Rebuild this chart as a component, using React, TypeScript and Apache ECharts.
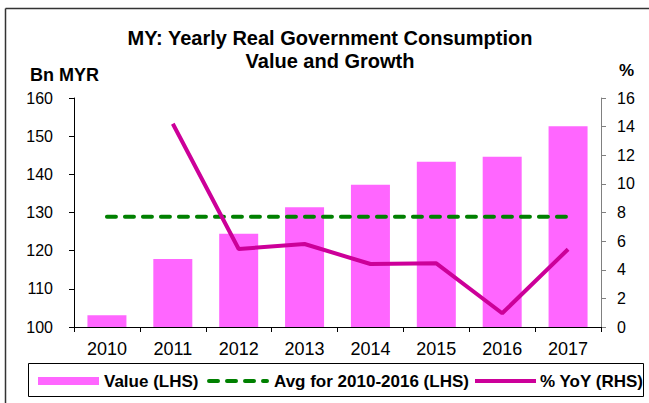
import React, { useEffect, useRef } from "react";
import * as echarts from "echarts";

const years = ["2010", "2011", "2012", "2013", "2014", "2015", "2016", "2017"];
const valueBn = [103.1, 117.8, 124.4, 131.4, 137.3, 143.3, 144.6, 152.6];
const avg2010to2016 = [128.9, 128.9, 128.9, 128.9, 128.9, 128.9, 128.9, 128.9];
const yoyPct: (number | null)[] = [null, 14.2, 5.45, 5.8, 4.4, 4.45, 0.96, 5.43];
const leftTicks = { min: 100, max: 160, interval: 10 };
const rightTicks = { min: 0, max: 16, interval: 2 };

const FONT = "'Liberation Sans', Arial, sans-serif";
const PINK = "#FF66FF";
const MAGENTA = "#CC0099";
const GREEN = "#008000";

export default function App() {
  const ref = useRef<HTMLDivElement>(null);
  useEffect(() => {
    if (!ref.current) return;
    const chart = echarts.init(ref.current, null, { renderer: "svg" });
    chart.setOption({
      animation: false,
      backgroundColor: "#ffffff",
      textStyle: { fontFamily: FONT },
      grid: { left: 74, right: 48, top: 98, bottom: 76 },
      xAxis: {
        type: "category",
        data: years,
        boundaryGap: true,
        axisLine: { lineStyle: { color: "#000", width: 1 } },
        axisTick: { show: true, length: 5, lineStyle: { color: "#000" } },
        axisLabel: { color: "#000", fontSize: 18, fontFamily: FONT, margin: 13 },
      },
      yAxis: [
        {
          type: "value",
          min: leftTicks.min,
          max: leftTicks.max,
          interval: leftTicks.interval,
          position: "left",
          axisLine: { show: true, lineStyle: { color: "#000", width: 1 } },
          axisTick: { show: true, length: 5, lineStyle: { color: "#000" } },
          axisLabel: { color: "#000", fontSize: 16, fontFamily: FONT, margin: 21 },
          splitLine: { show: false },
        },
        {
          type: "value",
          min: rightTicks.min,
          max: rightTicks.max,
          interval: rightTicks.interval,
          position: "right",
          axisLine: { show: true, lineStyle: { color: "#808080", width: 1 } },
          axisTick: { show: true, length: 5, lineStyle: { color: "#808080" } },
          axisLabel: { color: "#000", fontSize: 16, fontFamily: FONT, margin: 16 },
          splitLine: { show: false },
        },
      ],
      series: [
        {
          name: "Value (LHS)",
          type: "bar",
          data: valueBn,
          barWidth: 39,
          itemStyle: { color: PINK },
          yAxisIndex: 0,
        },
        {
          name: "Avg for 2010-2016 (LHS)",
          type: "line",
          data: avg2010to2016,
          yAxisIndex: 0,
          symbol: "none",
          lineStyle: { color: GREEN, width: 4, type: [9, 9], cap: "round" },
        },
        {
          name: "% YoY (RHS)",
          type: "line",
          data: yoyPct,
          yAxisIndex: 1,
          symbol: "none",
          connectNulls: false,
          lineStyle: { color: MAGENTA, width: 4 },
        },
      ],
      graphic: [
        { type: "line", shape: { x1: 5.5, y1: 8.5, x2: 649, y2: 8.5 }, style: { stroke: "#333", lineWidth: 1.5 } },
        { type: "line", shape: { x1: 5.5, y1: 8.5, x2: 5.5, y2: 403 }, style: { stroke: "#333", lineWidth: 1.5 } },
        {
          type: "text",
          x: 330,
          y: 38,
          style: { text: "MY: Yearly Real Government Consumption", font: `bold 20px ${FONT}`, fill: "#000", align: "center", verticalAlign: "middle" },
        },
        {
          type: "text",
          x: 330,
          y: 61,
          style: { text: "Value and Growth", font: `bold 20px ${FONT}`, fill: "#000", align: "center", verticalAlign: "middle" },
        },
        {
          type: "text",
          x: 30,
          y: 75,
          style: { text: "Bn MYR", font: `bold 18px ${FONT}`, fill: "#000", align: "left", verticalAlign: "middle" },
        },
        {
          type: "text",
          x: 619,
          y: 70,
          style: { text: "%", font: `bold 17px ${FONT}`, fill: "#000", align: "left", verticalAlign: "middle" },
        },
        { type: "rect", shape: { x: 28.5, y: 363.5, width: 615, height: 33 }, style: { fill: "#fff", stroke: "#000", lineWidth: 1 } },
        { type: "rect", shape: { x: 38, y: 377, width: 61, height: 8 }, style: { fill: PINK } },
        {
          type: "text",
          x: 104,
          y: 381,
          style: { text: "Value (LHS)", font: `bold 17px ${FONT}`, fill: "#000", align: "left", verticalAlign: "middle" },
        },
        { type: "line", shape: { x1: 209, y1: 381, x2: 267, y2: 381 }, style: { stroke: GREEN, lineWidth: 4, lineDash: [9, 9], lineCap: "round" } },
        {
          type: "text",
          x: 274,
          y: 381,
          style: { text: "Avg for 2010-2016 (LHS)", font: `bold 17px ${FONT}`, fill: "#000", align: "left", verticalAlign: "middle" },
        },
        { type: "line", shape: { x1: 475, y1: 381, x2: 536, y2: 381 }, style: { stroke: MAGENTA, lineWidth: 4 } },
        {
          type: "text",
          x: 540,
          y: 381,
          style: { text: "% YoY (RHS)", font: `bold 17px ${FONT}`, fill: "#000", align: "left", verticalAlign: "middle" },
        },
      ],
    });
    return () => chart.dispose();
  }, []);
  return (
    <div
      ref={ref}
      style={{ position: "fixed", left: 0, top: 0, width: 649, height: 403 }}
    />
  );
}
